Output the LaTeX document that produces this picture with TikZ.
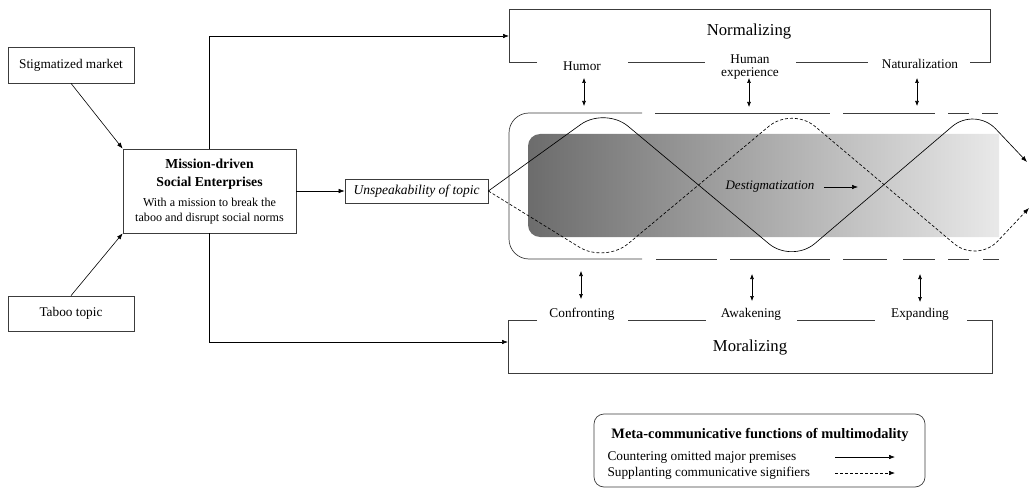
\documentclass[tikz,border=0pt]{standalone}
\usepackage{fontspec}
\setmainfont{Liberation Serif}
\usetikzlibrary{arrows.meta}
\definecolor{gdark}{RGB}{108,108,108}
\definecolor{glight}{RGB}{233,233,233}
\definecolor{frame}{RGB}{60,60,60}
\begin{document}
\begin{tikzpicture}[x=1pt,y=-1pt,
  box/.style={draw=frame, line width=0.7pt, inner sep=0pt},
  arr/.style={-{Latex[length=6pt,width=4.5pt]}, line width=0.6pt},
  dbl/.style={{Latex[length=5pt,width=4pt]}-{Latex[length=5pt,width=4pt]}, line width=0.6pt},
  f13/.style={font=\fontsize{13.3}{13}\selectfont},
  big/.style={font=\fontsize{16.7}{18}\selectfont},
  fr/.style={line width=0.7pt, draw=frame},
  wave/.style={line width=0.65pt, rounded corners=30pt, -{Latex[length=6pt,width=4.5pt]}},
]
\useasboundingbox (0,0) rectangle (1030,489);

% left boxes
\node[box, minimum width=126, minimum height=36, f13] (stig) at (71,65) {Stigmatized market};
\node[box, minimum width=126, minimum height=35, f13] (taboo) at (71,313.5) {Taboo topic};
\node[box, minimum width=173, minimum height=84] (mission) at (209.5,191) {};
\node[font=\fontsize{13.7}{18}\selectfont\bfseries, align=center] (mtitle) at (209.5,174) {Mission-driven\\Social Enterprises};
\node[font=\fontsize{12.1}{15}\selectfont, align=center] (msub) at (209.5,211.5) {With a mission to break the\\taboo and disrupt social norms};
\node[box, minimum width=143, minimum height=24, font=\fontsize{13.5}{15}\selectfont\itshape] (unsp) at (416.5,191) {Unspeakability of topic};

\draw[arr] (stig.south) -- (mission.north west);
\draw[arr] (taboo.north) -- (mission.south west);
\draw[arr] (mission.east) -- (unsp.west);

% normalizing frame
\coordinate (normin) at (509,36);
\coordinate (moralin) at (508,342);
\node[big] (normT) at (749,32) {Normalizing};
\node[f13] (humor) at (582,66) {Humor};
\node[f13, align=center] (human) at (750,67) {Human\\experience};
\node[f13] (natur) at (920,64) {Naturalization};
\draw[fr] (537,62) -- (509,62) -- (509,9) -| (990,62) -- (970,62);
\draw[fr] (628,62) -- (705,62);
\draw[fr] (796,62) -- (868,62);

% moralizing frame
\node[big] (moralT) at (750,348) {Moralizing};
\node[f13] (conf) at (582,314.5) {Confronting};
\node[f13] (awak) at (751,314.5) {Awakening};
\node[f13] (expa) at (920,314.5) {Expanding};
\draw[fr] (537,320) -- (508,320) |- (992,373) |- (967,320);
\draw[fr] (628,320) -- (706,320);
\draw[fr] (797,320) -- (875,320);

\draw[arr] (mission.north) |- (normin);
\draw[arr] (mission.south) |- (moralin);

% gradient band
\shade[left color=gdark, right color=glight] (999,134) [rounded corners=12pt] -- (528,134) -- (528,237) [sharp corners] -- (999,237) -- cycle;

% container
\draw[fr, rounded corners=20pt] (642,113) -- (509,113) -- (509,259) -- (642,259);
\draw[fr] (655,113) -- (830,113);
\draw[fr] (843,113) -- (935,113);
\draw[fr] (948,113) -- (969,113);
\draw[fr] (982,113) -- (998,113);
\draw[fr] (656,259) -- (717,259);
\draw[fr] (730,259) -- (830,259);
\draw[fr] (843,259) -- (887,259);
\draw[fr] (903,259) -- (935,259);
\draw[fr] (948,259) -- (969,259);
\draw[fr] (983,259) -- (999,259);

% double arrows
\coordinate (a1) at (584,78);  \coordinate (b1) at (584,106);
\coordinate (a2) at (749,78);  \coordinate (b2) at (749,107);
\coordinate (a3) at (917,78);  \coordinate (b3) at (917,106);
\coordinate (c1) at (581,271); \coordinate (d1) at (581,299);
\coordinate (c2) at (752,274); \coordinate (d2) at (752,301);
\coordinate (c3) at (920,274); \coordinate (d3) at (920,302);
\draw[dbl] (a1) -- (b1);
\draw[dbl] (a2) -- (b2);
\draw[dbl] (a3) -- (b3);
\draw[dbl] (c1) -- (d1);
\draw[dbl] (c2) -- (d2);
\draw[dbl] (c3) -- (d3);

% waves
\coordinate (sEnd) at (1027,162);
\coordinate (dEnd) at (1029,208);
\draw[wave] (unsp.east) -- (605,107) -- (792,263) -- (975,107) -- (sEnd);
\draw[wave, dash pattern=on 3pt off 2pt] (unsp.east) -- (605,263) -- (792,107) -- (977,263) -- (dEnd);

% destigmatization
\node[font=\fontsize{13}{15}\selectfont\itshape] (destig) at (770,187) {Destigmatization};
\coordinate (destigend) at (858,187);
\draw[arr] ([xshift=6pt]destig.east) -- (destigend);

% legend
\node[draw=frame, rounded corners=10pt, line width=0.7pt, minimum width=331, minimum height=73, inner sep=0pt] (legend) at (759.5,450.5) {};
\node[font=\fontsize{14.4}{16}\selectfont\bfseries] (legT) at (760,435) {Meta-communicative functions of multimodality};
\node[f13, anchor=west] (leg1) at (604,457) {Countering omitted major premises};
\node[f13, anchor=west] (leg2) at (604,473) {Supplanting communicative signifiers};
\coordinate (l1a) at (835,457); \coordinate (l1b) at (895,457);
\coordinate (l2a) at (835,473); \coordinate (l2b) at (895,473);
\draw[arr] (l1a) -- (l1b);
\draw[arr, dash pattern=on 3pt off 2pt] (l2a) -- (l2b);
\end{tikzpicture}
\end{document}
